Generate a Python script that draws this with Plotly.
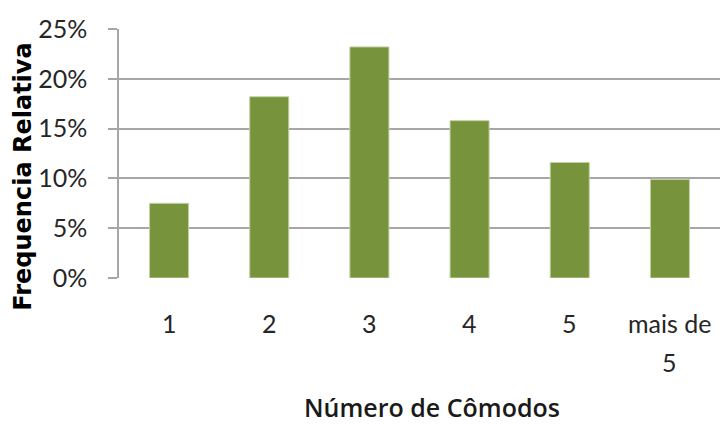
import plotly.graph_objects as go

# Relative frequency of households by number of rooms
categorias = ["1", "2", "3", "4", "5", "mais de\n5"]
frequencia = [0.075, 0.182, 0.232, 0.158, 0.116, 0.099]
y_ticks = [0, 0.05, 0.10, 0.15, 0.20, 0.25]

BAR_COLOR = "#77933C"
GRID_COLOR = "#A6A6A6"
TICK_FONT = dict(family="Lato", size=25, color="#262626")

x_pos = list(range(len(categorias)))

fig = go.Figure(
    go.Bar(
        x=x_pos,
        y=frequencia,
        marker=dict(color=BAR_COLOR, line=dict(color="#C3D2A4", width=1)),
        width=0.39,
        hoverinfo="y",
    )
)

# Category labels (some span two lines with wide spacing)
annotations = []
for xi, label in zip(x_pos, categorias):
    for li, line in enumerate(label.split("\n")):
        annotations.append(dict(
            x=xi, y=0, xref="x", yref="paper",
            text=line, showarrow=False,
            xanchor="center", yanchor="middle",
            yshift=-45 - 39 * li,
            font=TICK_FONT,
        ))

# Horizontal axis title
annotations.append(dict(
    x=0.52, y=0, xref="paper", yref="paper",
    text="Número de Cômodos", showarrow=False,
    xanchor="center", yanchor="bottom", yshift=-148,
    font=dict(family="Open Sans", size=25, weight=600, color="#1a1a1a"),
))

# Vertical axis title
annotations.append(dict(
    x=0, y=0.407, xref="paper", yref="paper",
    text="<b>Frequencia Relativa</b>", showarrow=False,
    textangle=-90, xanchor="center", yanchor="middle", xshift=-96,
    font=dict(family="DejaVu Sans", size=24, color="#000000"),
))

fig.update_layout(
    width=720, height=425,
    margin=dict(l=119, r=0, t=29, b=147),
    paper_bgcolor="white", plot_bgcolor="white",
    showlegend=False,
    annotations=annotations,
    xaxis=dict(
        range=[-0.5, 5.5],
        tickvals=x_pos,
        showticklabels=False,
        showgrid=False,
        zeroline=False,
        showline=False,
        ticks="",
        fixedrange=True,
    ),
    yaxis=dict(
        range=[0, 0.25],
        tickvals=y_ticks,
        tickformat=".0%",
        tickfont=TICK_FONT,
        ticks="outside", ticklen=9, tickwidth=1.5, tickcolor=GRID_COLOR,
        ticklabelstandoff=16,
        showgrid=True, gridcolor=GRID_COLOR, gridwidth=1.5,
        showline=True, linecolor=GRID_COLOR, linewidth=1.5,
        zeroline=False,
        fixedrange=True,
    ),
)

fig.write_html("out.html")
